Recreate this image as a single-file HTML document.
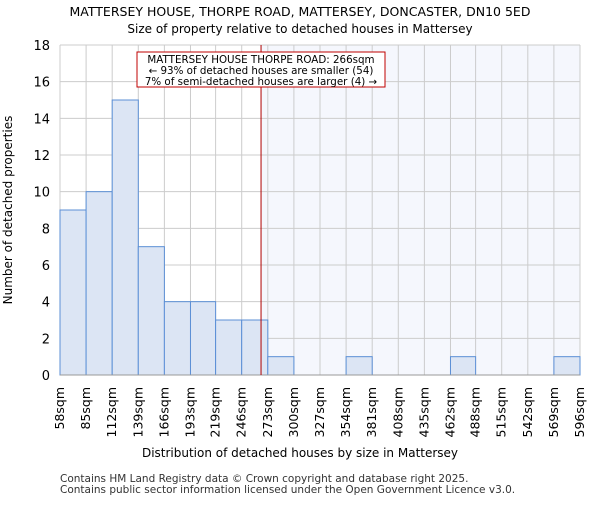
<!DOCTYPE html>
<html><head><meta charset="utf-8"><style>body{margin:0;background:#fff}svg{font-family:"DejaVu Sans","Liberation Sans",sans-serif}</style></head>
<body>
<svg id="c" width="600" height="500">
<text x="300" y="16" text-anchor="middle" font-size="12.5">MATTERSEY HOUSE, THORPE ROAD, MATTERSEY, DONCASTER, DN10 5ED</text>
<text x="300" y="33" text-anchor="middle" font-size="12">Size of property relative to detached houses in Mattersey</text>
<text x="300" y="457" text-anchor="middle" font-size="12">Distribution of detached houses by size in Mattersey</text>
<text transform="translate(12,210) rotate(-90)" text-anchor="middle" font-size="12">Number of detached properties</text>
<text x="60" y="482" font-size="10.5" fill="#333">Contains HM Land Registry data © Crown copyright and database right 2025.</text>
<text x="60" y="493" font-size="10.5" fill="#333">Contains public sector information licensed under the Open Government Licence v3.0.</text>
<g id="plot"></g>
</svg>
<script>
const edges=[58,85,112,139,166,193,219,246,273,300,327,354,381,408,435,462,488,515,542,569,596];
const counts=[9,10,15,7,4,4,3,3,1,0,0,1,0,0,0,1,0,0,0,1];
const yTicks=[0,2,4,6,8,10,12,14,16,18];
const propertySize=266;
const X0=60,X1=580,Y0=375,Y1=45,xmin=58,xmax=596,ymax=18;
const xs=v=>X0+(v-xmin)/(xmax-xmin)*(X1-X0);
const ys=v=>Y0-v/ymax*(Y0-Y1);
const NS="http://www.w3.org/2000/svg";
const g=document.getElementById('plot');
function mk(t,a,p){const e=document.createElementNS(NS,t);for(const k in a)e.setAttribute(k,a[k]);(p||g).appendChild(e);return e;}
const px=xs(propertySize);
let r=mk('rect',{x:px,y:Y1,width:X1-px,height:Y0-Y1,fill:'#f5f7fd'});


yTicks.forEach(t=>{
 let l=mk('line',{x1:X0,x2:X1,y1:ys(t),y2:ys(t),stroke:'#ccc'});
 
 
 let tx=mk('text',{x:X0-10,y:ys(t)+5,'text-anchor':'end','font-size':13});
 tx.textContent=t;
 
 
});
edges.forEach(e=>{
 let l=mk('line',{x1:xs(e),x2:xs(e),y1:Y1,y2:Y0,stroke:'#ccc'});
 
 
 let x=xs(e)+4;
 let tx=mk('text',{transform:`translate(${x},387) rotate(-90)`,'text-anchor':'end','font-size':12.5});
 tx.textContent=e+'sqm';
 
 
});
counts.forEach((c,i)=>{
 if(!c)return;
 let b=mk('rect',{x:xs(edges[i]),y:ys(c),width:xs(edges[i+1])-xs(edges[i]),height:Y0-ys(c),fill:'#dce5f4',stroke:'#5b8fd6','stroke-width':1});
 
 
});
let ax=mk('line',{x1:X0,x2:X1,y1:Y0,y2:Y0,stroke:'#999'});


let pl=mk('line',{x1:px,x2:px,y1:Y1,y2:Y0,stroke:'#b00000','stroke-width':1});


let bx=mk('rect',{x:137,y:52,width:248,height:35,fill:'#fff',stroke:'#c00000'});


['MATTERSEY HOUSE THORPE ROAD: 266sqm','← 93% of detached houses are smaller (54)','7% of semi-detached houses are larger (4) →'].forEach((s,i)=>{
 let t=mk('text',{x:261,y:63+i*11,'text-anchor':'middle','font-size':10.3});
 t.textContent=s;
 
 
});
</script>
</body></html>
